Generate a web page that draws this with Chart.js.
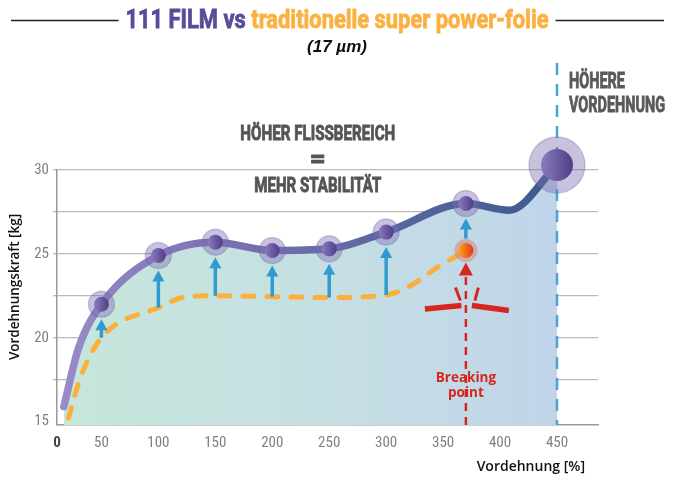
<!DOCTYPE html>
<html>
<head>
<meta charset="utf-8">
<script src="https://cdn.jsdelivr.net/npm/chart.js@4.4.0/dist/chart.umd.min.js"></script>
<style>
	body { margin: 0; background: #fff; }
</style>
</head>
<body>
<canvas id="chart-canvas" width="688" height="487"></canvas>
<script>
// values
const extension = [17, 30, 50, 100, 150, 200, 250, 300, 370, 408, 450];
const film111 = [15.9, 19.4, 22.0, 24.9, 25.7, 25.2, 25.3, 26.3, 28.0, 27.6, 30.3];
const tradExtension = [21, 32, 50, 100, 125, 150, 200, 250, 300, 320, 345, 370];
const traditional = [15.2, 17.7, 20.0, 21.8, 22.45, 22.5, 22.45, 22.4, 22.55, 23.05, 24.2, 25.2];
const measuredAt = [50, 100, 150, 200, 250, 300, 370, 450];
const breakingAt = 370;
const maxExtension = 450;
const xTicks = [0, 50, 100, 150, 200, 250, 300, 350, 400, 450];
const yTicks = [15, 17.5, 20, 22.5, 25, 27.5, 30];

const X_MIN = 11;
const X_MAX = 486;
const tickFont = "'Roboto Condensed', 'Liberation Sans Narrow', 'DejaVu Sans Condensed', Roboto, sans-serif";

const ctx = document.querySelector('#chart-canvas').getContext('2d');

const valueAt = (xs, ys, x) => ys[xs.indexOf(x)];

const hGradient = (chart, stops) => {
	const { chartArea } = chart;
	if (!chartArea) return null;
	const g = chart.ctx.createLinearGradient(chartArea.left, 0, chart.scales.x.getPixelForValue(maxExtension), 0);
	stops.forEach((c, i) => g.addColorStop(i / (stops.length - 1), c));
	return g;
};

// condensed heading text, squeezed to a given width
const squeezed = (c, text, x, y, size, width, color, align = 'center') => {
	c.save();
	c.font = `bold ${size}px Roboto`;
	const sx = width / c.measureText(text).width;
	c.translate(x, y);
	c.scale(sx, 1);
	c.fillStyle = color;
	c.strokeStyle = color;
	c.lineWidth = 0.9;
	c.textAlign = align;
	c.textBaseline = 'middle';
	c.fillText(text, 0, 0);
	c.strokeText(text, 0, 0);
	c.restore();
};

const upArrow = (c, x, yFrom, yTip, color, width, head) => {
	c.save();
	c.strokeStyle = color;
	c.fillStyle = color;
	c.lineWidth = width;
	c.beginPath();
	c.moveTo(x, yFrom);
	c.lineTo(x, yTip + head - 1);
	c.stroke();
	c.beginPath();
	c.moveTo(x, yTip);
	c.lineTo(x - head * 0.55, yTip + head);
	c.lineTo(x + head * 0.55, yTip + head);
	c.closePath();
	c.fill();
	c.restore();
};

const marker = (c, x, y, r, halo) => {
	c.save();
	c.beginPath();
	c.arc(x, y, halo, 0, Math.PI * 2);
	c.fillStyle = 'rgba(125, 110, 178, 0.42)';
	c.fill();
	c.lineWidth = 1.5;
	c.strokeStyle = 'rgba(110, 95, 165, 0.3)';
	c.stroke();
	const g = c.createLinearGradient(x - r, y, x + r, y);
	g.addColorStop(0, '#8b7cc0');
	g.addColorStop(1, '#4d3e85');
	c.beginPath();
	c.arc(x, y, r, 0, Math.PI * 2);
	c.fillStyle = g;
	c.fill();
	c.restore();
};

const decorations = {
	id: 'decorations',
	afterDatasetsDraw(chart) {
		const c = chart.ctx;
		const { x: xs, y: ys } = chart.scales;
		const area = chart.chartArea;

		// vertical dashed line at max extension
		const mx = xs.getPixelForValue(maxExtension);
		c.save();
		c.strokeStyle = '#43a6d6';
		c.lineWidth = 2.5;
		c.setLineDash([12, 9]);
		c.beginPath();
		c.moveTo(mx, 63);
		c.lineTo(mx, area.bottom);
		c.stroke();
		c.restore();

		// breaking point line, arrow and crack
		const bx = xs.getPixelForValue(breakingAt);
		const by = ys.getPixelForValue(valueAt(tradExtension, traditional, breakingAt));
		c.save();
		c.strokeStyle = '#d7261e';
		c.fillStyle = '#d7261e';
		c.lineWidth = 2.5;
		c.setLineDash([8, 6]);
		c.beginPath();
		c.moveTo(bx, area.bottom);
		c.lineTo(bx, by + 24);
		c.stroke();
		c.setLineDash([]);
		c.beginPath();
		c.moveTo(bx, by + 12);
		c.lineTo(bx - 7, by + 25);
		c.lineTo(bx + 7, by + 25);
		c.closePath();
		c.fill();
		c.lineWidth = 5.5;
		c.beginPath();
		c.moveTo(bx - 41, by + 58.5);
		c.lineTo(bx - 4.5, by + 55);
		c.moveTo(bx + 6, by + 55);
		c.lineTo(bx + 43, by + 60);
		c.stroke();
		c.lineWidth = 3;
		c.beginPath();
		c.moveTo(bx - 10.5, by + 37);
		c.lineTo(bx - 5.5, by + 50);
		c.moveTo(bx + 12.5, by + 37);
		c.lineTo(bx + 9, by + 50);
		c.stroke();
		c.font = "bold 13.5px 'Open Sans', sans-serif";
		c.textAlign = 'center';
		c.textBaseline = 'middle';
		c.fillText('Breaking', bx, area.bottom - 47);
		c.fillText('point', bx, area.bottom - 32);
		c.restore();

		// arrows from traditional foil up to 111 FILM
		measuredAt.forEach(x => {
			const low = valueAt(tradExtension, traditional, x);
			if (low === undefined) return;
			const px = xs.getPixelForValue(x);
			const yLow = ys.getPixelForValue(low) + (x === breakingAt ? -12 : 0);
			const yHigh = ys.getPixelForValue(valueAt(extension, film111, x)) + 15;
			upArrow(c, px, yLow, yHigh, '#319bd0', 3.5, 11);
		});

		// markers on the 111 FILM curve
		measuredAt.forEach(x => {
			const px = xs.getPixelForValue(x);
			const py = ys.getPixelForValue(valueAt(extension, film111, x));
			if (x === maxExtension) marker(c, px, py, 16, 28);
			else marker(c, px, py, 7.5, 13);
		});

		// breaking point marker
		c.save();
		c.beginPath();
		c.arc(bx, by, 11.5, 0, Math.PI * 2);
		c.fillStyle = 'rgba(214, 120, 95, 0.45)';
		c.fill();
		const og = c.createLinearGradient(bx - 7, by, bx + 7, by);
		og.addColorStop(0, '#f9a21e');
		og.addColorStop(1, '#e63a1c');
		c.beginPath();
		c.arc(bx, by, 7.5, 0, Math.PI * 2);
		c.fillStyle = og;
		c.fill();
		c.restore();

		// texts
		const tx = xs.getPixelForValue(240);
		squeezed(c, 'HÖHER FLISSBEREICH', tx, 135, 20, 155, '#555555');
		squeezed(c, '=', tx, 160, 26, 16, '#555555');
		squeezed(c, 'MEHR STABILITÄT', tx, 187, 20, 127, '#555555');
		squeezed(c, 'HÖHERE', mx + 12, 82, 22, 56, '#5a5a5a', 'left');
		squeezed(c, 'VORDEHNUNG', mx + 12, 106, 22, 96, '#5a5a5a', 'left');
	}
};

const titles = {
	id: 'titles',
	afterDraw(chart) {
		const c = chart.ctx;
		c.save();
		// main title in two colours
		const part1 = '111 FILM vs ';
		const part2 = 'traditionelle super power-folie';
		c.font = 'bold 26px Roboto';
		const w1 = c.measureText(part1).width;
		const w2 = c.measureText(part2).width;
		const sx = 423 / (w1 + w2);
		const start = 337 - 423 / 2;
		c.textBaseline = 'middle';
		c.lineWidth = 0.8;
		c.save();
		c.translate(start, 21);
		c.scale(sx, 1);
		c.fillStyle = c.strokeStyle = '#5b4b9a';
		c.fillText(part1, 0, 0);
		c.strokeText(part1, 0, 0);
		c.fillStyle = c.strokeStyle = '#fbb040';
		c.fillText(part2, w1, 0);
		c.strokeText(part2, w1, 0);
		c.restore();
		c.strokeStyle = '#222';
		c.lineWidth = 1.3;
		c.beginPath();
		c.moveTo(11, 20.5);
		c.lineTo(start - 7, 20.5);
		c.moveTo(start + 423 + 7, 20.5);
		c.lineTo(664, 20.5);
		c.stroke();

		c.fillStyle = '#111';
		c.textAlign = 'center';
		c.font = "italic bold 17px 'Liberation Sans', Arial, sans-serif";
		c.fillText('(17 µm)', 337, 47);

		// axis titles
		c.font = "600 13.5px 'Open Sans', sans-serif";
		c.save();
		c.translate(15, 287);
		c.rotate(-Math.PI / 2);
		c.fillText('Vordehnungskraft [kg]', 0, 0);
		c.restore();
		c.textAlign = 'right';
		c.font = "600 14px 'Open Sans', sans-serif";
		c.fillText('Vordehnung [%]', 585, 467);
		c.restore();
	}
};

const chart = new Chart(ctx, {
	type: 'line',
	data: {
		datasets: [
			{
				label: '111 FILM',
				data: extension.map((x, i) => ({ x, y: film111[i] })),
				borderColor: c => hGradient(c.chart, ['#998cc8', '#7a70b2', '#5a66a0', '#3c5a8c']),
				backgroundColor: c => hGradient(c.chart, ['#c6e7db', '#c5e0e2', '#c0d5ea']),
				borderWidth: 7.5,
				borderCapStyle: 'round',
				fill: 'start',
				cubicInterpolationMode: 'monotone',
				pointRadius: 0,
				clip: false,
				order: 1
			},
			{
				label: 'traditionelle super power-folie',
				data: tradExtension.map((x, i) => ({ x, y: traditional[i] })),
				borderColor: '#fbb03b',
				borderWidth: 5,
				borderDash: [11, 13],
				borderCapStyle: 'round',
				fill: false,
				cubicInterpolationMode: 'monotone',
				pointRadius: 0,
				clip: false,
				order: 2
			}
		]
	},
	options: {
		responsive: false,
		animation: false,
		layout: { padding: { top: 170, right: 90, left: 0, bottom: 0 } },
		plugins: {
			legend: { display: false },
			title: { display: false },
			tooltip: { enabled: false },
			filler: { drawTime: 'beforeDatasetsDraw' }
		},
		scales: {
			x: {
				type: 'linear',
				min: X_MIN,
				max: X_MAX,
				afterBuildTicks: scale => {
					scale.ticks = xTicks.map(v => ({ value: Math.max(v, X_MIN) }));
				},
				afterFit: scale => { scale.height = 62; },
				ticks: {
					callback: (v, i) => String(xTicks[i]),
					padding: 9,
					maxRotation: 0,
					autoSkip: false,
					color: c => c.index === 0 ? '#444' : '#808080',
					font: c => ({ family: tickFont, size: 15, weight: c.index === 0 ? 'bold' : 'normal' })
				},
				grid: { drawOnChartArea: false, drawTicks: false },
				border: { color: '#9a9a9a', width: 1.5 }
			},
			y: {
				min: 14.8,
				max: 30,
				afterBuildTicks: scale => {
					scale.ticks = yTicks.map(v => ({ value: v }));
				},
				afterFit: scale => { scale.width = 57; },
				ticks: {
					callback: v => v % 5 === 0 ? v : '',
					padding: 4,
					autoSkip: false,
					color: '#808080',
					font: { family: tickFont, size: 15 }
				},
				grid: {
					color: c => c.tick && c.tick.value === 15 ? 'rgba(0,0,0,0)' : '#b9b9b9',
					lineWidth: 1.3,
					tickLength: 4
				},
				border: { color: '#9a9a9a', width: 1.5 }
			}
		}
	},
	plugins: [decorations, titles]
});
</script>
</body>
</html>
